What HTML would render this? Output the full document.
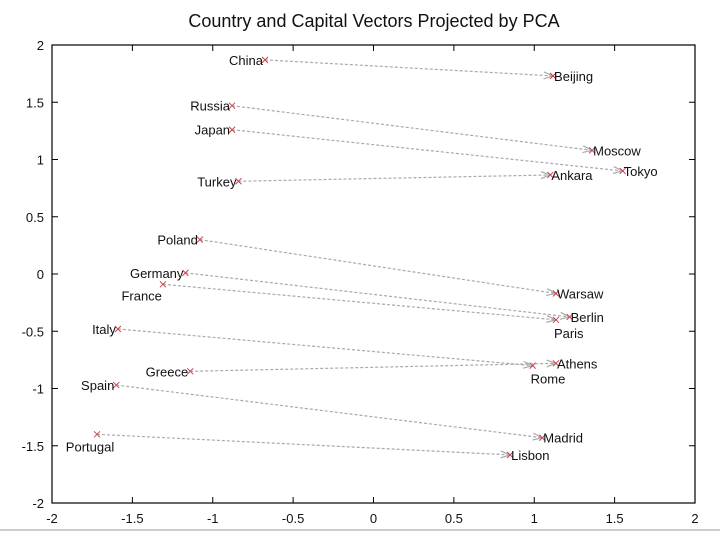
<!DOCTYPE html>
<html><head><meta charset="utf-8"><style>
html,body{margin:0;padding:0;background:#fff;}
svg{display:block;font-family:"Liberation Sans",sans-serif;}
</style></head><body>
<svg id="chart" width="720" height="537">
<text x="374" y="27" font-size="18" text-anchor="middle" fill="#111">Country and Capital Vectors Projected by PCA</text>
<line x1="0" y1="530" x2="720" y2="530" stroke="#ccc" stroke-width="2"/>
<g id="plot"></g>
</svg>
<script>
const countries = ["China","Russia","Japan","Turkey","Poland","Germany","France","Italy","Greece","Spain","Portugal"];
const capitals = ["Beijing","Moscow","Tokyo","Ankara","Warsaw","Berlin","Paris","Rome","Athens","Madrid","Lisbon"];
const countryX = [-0.675,-0.88,-0.88,-0.84,-1.08,-1.17,-1.31,-1.59,-1.14,-1.60,-1.72];
const countryY = [1.87,1.47,1.26,0.81,0.30,0.01,-0.09,-0.48,-0.85,-0.97,-1.40];
const capitalX = [1.117,1.36,1.55,1.10,1.135,1.22,1.135,0.99,1.135,1.05,0.85];
const capitalY = [1.73,1.08,0.90,0.865,-0.17,-0.375,-0.40,-0.80,-0.78,-1.43,-1.58];
const xTicks = [-2,-1.5,-1,-0.5,0,0.5,1,1.5,2];
const yTicks = [-2,-1.5,-1,-0.5,0,0.5,1,1.5,2];
const belowCountry = ["France"];
const belowCenterCountry = ["Portugal"];
const belowCapital = ["Paris","Rome"];

const L=52,R=695,T=45,B=503;
const sx=v=>L+(v+2)/4*(R-L);
const sy=v=>B-(v+2)/4*(B-T);
const NS="http://www.w3.org/2000/svg";
const g=document.getElementById('plot');
function mk(tag,attrs,parent){const e=document.createElementNS(NS,tag);for(const k in attrs)e.setAttribute(k,attrs[k]);(parent||g).appendChild(e);return e;}

const frame=mk('rect',{x:L,y:T,width:R-L,height:B-T,fill:'none',stroke:'#000','stroke-width':1.2});



xTicks.forEach(v=>{
  const x=sx(v);
  const t1=mk('line',{x1:x,y1:B,x2:x,y2:B-6,stroke:'#000'});
  
  
  const t2=mk('line',{x1:x,y1:T,x2:x,y2:T+6,stroke:'#000'});
  
  
  const tx=mk('text',{x:x,y:B+20,'font-size':13,'text-anchor':'middle',fill:'#111'});
  tx.textContent=v;
  
  
});
yTicks.forEach(v=>{
  const y=sy(v);
  const t1=mk('line',{x1:L,y1:y,x2:L+6,y2:y,stroke:'#000'});
  
  
  const t2=mk('line',{x1:R,y1:y,x2:R-6,y2:y,stroke:'#000'});
  
  
  const tx=mk('text',{x:L-8,y:y+5,'font-size':13,'text-anchor':'end',fill:'#111'});
  tx.textContent=v;
  
  
});

function cross(x,y,name){
  const c=mk('path',{d:`M${x-3},${y-3}L${x+3},${y+3}M${x-3},${y+3}L${x+3},${y-3}`,stroke:'#d04050','stroke-width':1});
  
  
}
countries.forEach((c,i)=>{
  const x1=sx(countryX[i]),y1=sy(countryY[i]),x2=sx(capitalX[i]),y2=sy(capitalY[i]);
  const ln=mk('line',{x1:x1,y1:y1,x2:x2,y2:y2,stroke:'#aaa','stroke-width':1.2,'stroke-dasharray':'3,2'});
  
  
  const a=Math.atan2(y2-y1,x2-x1),h=10,w=0.35;
  const p1=[x2-h*Math.cos(a-w),y2-h*Math.sin(a-w)],p2=[x2-h*Math.cos(a+w),y2-h*Math.sin(a+w)];
  const ah=mk('path',{d:`M${p1[0]},${p1[1]}L${x2},${y2}L${p2[0]},${p2[1]}`,fill:'none',stroke:'#aaa','stroke-width':1.2});
  
  
  cross(x1,y1,'point-'+c.toLowerCase());
  cross(x2,y2,'point-'+capitals[i].toLowerCase());
  let ct;
  if(belowCountry.includes(c)) ct=mk('text',{x:x1-1,y:y1+16,'font-size':13,'text-anchor':'end',fill:'#111'});
  else if(belowCenterCountry.includes(c)) ct=mk('text',{x:x1-7,y:y1+17,'font-size':13,'text-anchor':'middle',fill:'#111'});
  else ct=mk('text',{x:x1-2,y:y1+5,'font-size':13,'text-anchor':'end',fill:'#111'});
  ct.textContent=c;
  
  
  const cap=capitals[i];
  let kt;
  if(belowCapital.includes(cap)) kt=mk('text',{x:x2-2,y:y2+18,'font-size':13,'text-anchor':'start',fill:'#111'});
  else kt=mk('text',{x:x2+1,y:y2+5,'font-size':13,'text-anchor':'start',fill:'#111'});
  kt.textContent=cap;
  
  
});
</script>
</body></html>
